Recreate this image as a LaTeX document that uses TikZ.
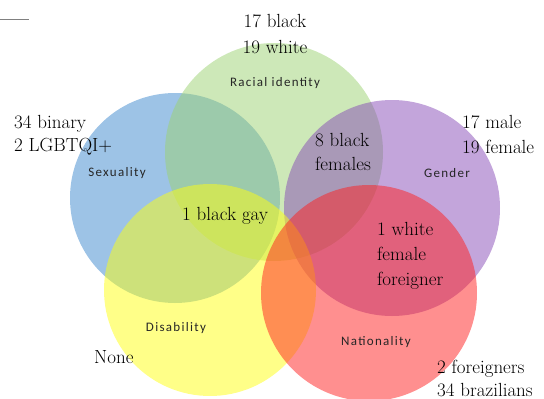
\documentclass[tikz,border=0pt]{standalone}
\usepackage{fontspec}
\usepackage{tikz}
\usetikzlibrary{positioning}
\newfontfamily\lblfont[LetterSpace=10]{Carlito}

\definecolor{sexblue}{RGB}{59,135,205}
\definecolor{raceGreen}{RGB}{155,209,113}
\definecolor{genderPurple}{RGB}{135,75,183}
\definecolor{disYellow}{RGB}{255,255,17}
\definecolor{natRed}{RGB}{255,31,31}

\begin{document}
\begin{tikzpicture}[x=1pt, y=-1pt,
  set/.style = {shape = circle, draw = none, fill opacity = 0.5, inner sep = 0pt},
  setname/.style = {font = \lblfont\fontsize{13}{15}\selectfont, text = black!85},
  count/.style = {font = \fontsize{19}{25}\selectfont, align = left, inner sep = 0pt}]
\useasboundingbox (0,0) rectangle (544,399);
\draw[gray, line width = 1pt] (0,19) coordinate (rulea) -- (29,19) coordinate (ruleb);
% the five sets
\node[set, fill = sexblue, minimum size = 210pt] (sexuality) at (175,198) {};
\node[set, fill = raceGreen, minimum size = 218pt] (race) at (274,152) {};
\node[set, fill = genderPurple, minimum size = 216pt] (gender) at (392,208) {};
\node[set, fill = disYellow, minimum size = 212pt] (disability) at (210,290) {};
\node[set, fill = natRed, minimum size = 216pt] (nationality) at (369,293) {};
% set names
\node[setname] (racelbl) at (275,83) {Racial identity};
\node[setname] (sexlbl) at (117,173) {Sexuality};
\node[setname] (genderlbl) at (447,173) {Gender};
\node[setname] (dislbl) at (176,328) {Disability};
\node[setname] (natlbl) at (376,342) {Nationality};
% counts
\node[count, align = center, font = \fontsize{19}{26}\selectfont] (racecnt) at (275,34) {17 black\\19 white};
\node[count, anchor = west, font = \fontsize{19}{23}\selectfont] (sexcnt) at (14,135) {34 binary\\2 LGBTQI+};
\node[count, anchor = west] (gendercnt) at (462,135) {17 male\\19 female};
\node[count, anchor = west, font = \fontsize{19}{24}\selectfont] (blackfem) at (315,152) {8 black\\females};
\node[count, anchor = west] (blackgay) at (182,216) {1 black gay};
\node[count, anchor = west] (whitefem) at (377,256) {1 white\\female\\foreigner};
\node[count, anchor = west] (discnt) at (94,357) {None};
\node[count, anchor = west, font = \fontsize{19}{23}\selectfont] (natcnt) at (437,378) {2 foreigners\\34 brazilians};
\end{tikzpicture}
\end{document}
